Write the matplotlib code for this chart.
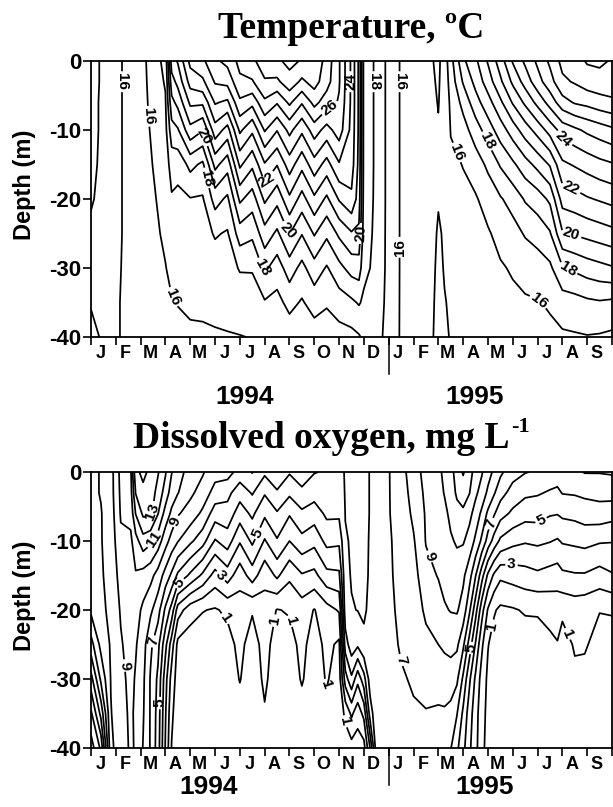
import numpy as np
import matplotlib
matplotlib.use('Agg')
import matplotlib.pyplot as plt
from matplotlib import transforms

plt.rcParams['font.family'] = ['Liberation Sans', 'DejaVu Sans']
plt.rcParams['font.weight'] = 'bold'

# month letters Jan 1994 .. Sep 1995
months = list('JFMAMJJASONDJFMAMJJAS')
years = ['1994', '1995']
depths = [0, -3, -6, -10, -15, -20, -25, -30, -35, -40]

# temperature profiles (deg C) read at each date (months since 1 Jan 1994)
temp_times = [0.0, 0.5, 1.0, 1.5, 2.0, 2.5, 3.0, 3.25, 3.5, 4.0, 4.5, 5.0, 5.5,
              6.0, 6.5, 7.0, 7.5, 8.0, 8.5, 9.0, 9.5, 10.0, 10.5, 10.8, 11.0,
              11.5, 12.0, 12.5, 13.0, 13.5, 14.0, 14.25, 14.5, 15.0, 15.5,
              16.0, 16.5, 17.0, 17.5, 18.0, 18.5, 19.0, 19.5, 20.0, 20.5, 21.0]
temp_values = [
    [17.4, 17.4, 17.3, 17.3, 17.2, 17.1, 16.8, 16.4, 16.05, 15.8],
    [16.8, 16.8, 16.8, 16.8, 16.8, 16.7, 16.6, 16.4, 16.2, 16.1],
    [16.2, 16.2, 16.2, 16.2, 16.2, 16.2, 16.2, 16.15, 16.1, 16.1],
    [15.8, 15.8, 15.8, 15.8, 15.8, 15.8, 15.8, 15.8, 15.8, 15.8],
    [15.6, 15.6, 15.6, 15.6, 15.6, 15.6, 15.6, 15.6, 15.6, 15.6],
    [16.5, 16.4, 16.3, 16.15, 16.02, 15.9, 15.8, 15.7, 15.6, 15.6],
    [17.3, 17.1, 16.9, 16.7, 16.5, 16.3, 16.15, 15.97, 15.85, 15.7],
    [21.5, 20.6, 19.7, 18.6, 17.4, 16.9, 16.5, 16.2, 15.95, 15.8],
    [22.1, 21.3, 20.3, 18.9, 17.3, 16.8, 16.5, 16.2, 16.02, 15.85],
    [24.3, 23.4, 22.2, 20.7, 18.3, 16.95, 16.6, 16.35, 16.1, 15.9],
    [24.8, 23.8, 22.2, 20.05, 17.8, 16.9, 16.6, 16.35, 16.1, 15.92],
    [25.8, 25.1, 24.1, 22.6, 20.3, 18.4, 17.1, 16.5, 16.15, 15.94],
    [26.3, 25.3, 23.8, 21.6, 19.4, 17.8, 16.9, 16.5, 16.2, 15.96],
    [27.3, 26.8, 25.8, 24.2, 22.2, 20.2, 18.5, 17.1, 16.3, 15.98],
    [27.8, 26.9, 25.3, 23.2, 21.2, 19.5, 18.2, 17.1, 16.4, 16.02],
    [28.5, 27.9, 26.8, 25.1, 22.9, 21.2, 19.6, 18.2, 16.9, 16.1],
    [28.8, 27.8, 26.1, 24.05, 22.05, 20.3, 18.8, 17.5, 16.7, 16.2],
    [29.3, 28.6, 27.2, 25.3, 23.5, 21.8, 20.05, 18.5, 17.3, 16.4],
    [28.9, 27.8, 26.1, 24.2, 22.3, 20.6, 19.05, 17.7, 16.9, 16.35],
    [28.8, 28.4, 27.3, 25.5, 23.6, 21.8, 20.1, 18.6, 17.4, 16.5],
    [27.6, 27.4, 26.5, 24.6, 22.6, 20.8, 19.2, 17.9, 17.1, 16.5],
    [26.1, 26.1, 25.9, 25.5, 23.9, 22.1, 20.2, 18.7, 17.5, 16.6],
    [23.8, 23.8, 23.8, 23.7, 23.5, 22.8, 20.9, 19.4, 17.8, 16.7],
    [21.8, 21.8, 21.8, 21.8, 21.7, 21.5, 20.8, 19.5, 18.1, 16.9],
    [18.7, 18.7, 18.7, 18.7, 18.7, 18.6, 18.5, 18.3, 17.8, 17.2],
    [17.8, 17.8, 17.8, 17.8, 17.8, 17.8, 17.75, 17.7, 17.6, 17.4],
    [16.7, 16.7, 16.7, 16.7, 16.7, 16.7, 16.7, 16.7, 16.65, 16.6],
    [15.9, 15.9, 15.9, 15.9, 15.9, 15.9, 15.9, 15.9, 15.9, 15.9],
    [15.5, 15.5, 15.5, 15.5, 15.5, 15.5, 15.5, 15.5, 15.5, 15.5],
    [15.3, 15.3, 15.3, 15.3, 15.3, 15.3, 15.3, 15.3, 15.3, 15.3],
    [14.8, 14.9, 14.97, 15.05, 15.08, 15.03, 14.95, 14.9, 14.85, 14.8],
    [15.5, 15.4, 15.3, 15.2, 15.15, 15.1, 15.05, 15.03, 14.98, 14.95],
    [16.6, 16.4, 16.2, 16.05, 15.8, 15.5, 15.3, 15.15, 15.05, 15.02],
    [18.8, 18.1, 17.3, 16.6, 16.03, 15.8, 15.5, 15.3, 15.2, 15.1],
    [19.8, 19.3, 18.6, 17.5, 16.5, 15.9, 15.6, 15.4, 15.3, 15.2],
    [21.1, 20.5, 19.6, 18.5, 17.2, 16.4, 15.9, 15.6, 15.4, 15.3],
    [22.5, 21.8, 20.8, 19.5, 18.1, 16.9, 16.3, 15.9, 15.6, 15.4],
    [24.1, 23.2, 22.1, 20.5, 18.8, 17.4, 16.6, 16.1, 15.8, 15.5],
    [25.2, 24.4, 23.2, 21.5, 19.6, 18.1, 17.1, 16.3, 15.9, 15.6],
    [26.2, 25.6, 24.3, 22.4, 20.3, 18.5, 17.4, 16.5, 15.95, 15.7],
    [27.2, 26.6, 25.4, 23.4, 21.1, 19.2, 17.9, 16.8, 16.1, 15.8],
    [28.3, 27.8, 26.6, 24.4, 22.8, 21.4, 19.9, 17.9, 16.5, 15.85],
    [28.6, 28.1, 27.1, 24.8, 23.1, 21.6, 20.1, 18.2, 16.6, 15.9],
    [29.1, 28.5, 27.3, 25.2, 23.4, 21.9, 20.3, 18.5, 16.8, 15.95],
    [29.2, 28.6, 27.6, 25.5, 23.7, 22.1, 20.5, 18.7, 16.9, 15.9],
    [28.9, 28.6, 27.8, 25.8, 23.9, 22.3, 20.7, 18.9, 16.8, 15.8],
]
temp_levels = np.arange(15, 30)
temp_label_levels = [16, 18, 20, 22, 24, 26, 28]
temp_label_xy = [(1.3, -3), (2.35, -8), (3.6, -33.5), (4.45, -11), (4.6, -17),
                 (6.85, -30), (7.4, -18), (7.8, -24.8), (9.55, -6.4),
                 (10.35, -3), (10.9, -25), (11.4, -3), (12.5, -3), (12.5, -27),
                 (14.5, -13.6), (15.9, -11.7), (18.0, -35), (19.1, -11),
                 (19.4, -18), (19.4, -24.6), (19.3, -29.6)]

# dissolved oxygen profiles (mg/L)
do_times = [0.0, 0.4, 0.8, 1.2, 1.6, 1.8, 2.1, 2.4, 2.7, 3.0, 3.25, 3.5, 4.0,
            4.5, 5.0, 5.5, 6.0, 6.5, 7.0, 7.5, 8.0, 8.5, 9.0, 9.5, 10.0, 10.25,
            10.5, 10.75, 11.0, 11.25, 11.5, 12.0, 12.5, 13.0, 13.5, 14.0, 14.25,
            14.5, 14.75, 15.0, 15.25, 15.5, 15.75, 16.0, 16.25, 16.5, 17.0,
            17.5, 18.0, 18.5, 18.8, 19.0, 19.5, 19.9, 20.5, 21.0]
do_values = [
    [7.8, 7.8, 7.8, 7.7, 7.6, 7.2, 5.6, 3.6, 1.8, 0.5],
    [8.05, 8.05, 7.95, 7.95, 7.9, 7.8, 7.3, 6.2, 4.3, 2.2],
    [8.6, 8.6, 8.5, 8.4, 8.3, 8.2, 8.1, 8.05, 7.95, 7.8],
    [10.3, 10.2, 10.1, 9.8, 9.4, 9.1, 8.9, 8.7, 8.6, 8.5],
    [10.8, 10.6, 10.3, 9.8, 9.7, 9.5, 9.4, 9.3, 9.2, 9.15],
    [13.8, 13.05, 12.05, 10.6, 9.9, 9.4, 9.1, 8.9, 8.8, 8.9],
    [14.2, 13.8, 13.2, 11.6, 9.6, 8.8, 8.4, 8.2, 8.1, 7.95],
    [13.8, 13.6, 13.3, 11.2, 9.3, 8.2, 7.2, 6.9, 6.9, 6.9],
    [13.1, 12.6, 12.05, 10.5, 8.6, 7.4, 6.3, 5.8, 5.6, 5.5],
    [12.1, 11.6, 10.6, 9.4, 7.6, 5.8, 4.3, 3.4, 3.1, 2.9],
    [11.05, 10.5, 9.8, 8.6, 6.8, 4.6, 2.5, 1.6, 1.2, 0.95],
    [10.5, 10.05, 9.1, 8.05, 5.8, 2.5, 0.7, 0.5, 0.4, 0.3],
    [9.5, 9.2, 8.6, 7.2, 4.8, 1.4, 0.5, 0.4, 0.3, 0.3],
    [9.1, 8.6, 7.8, 6.4, 3.8, 1.05, 0.4, 0.3, 0.3, 0.3],
    [8.4, 7.6, 6.5, 4.9, 2.6, 0.9, 0.3, 0.3, 0.3, 0.3],
    [8.4, 7.3, 6.6, 5.5, 3.5, 1.2, 0.6, 0.4, 0.3, 0.3],
    [7.6, 6.4, 5.5, 4.1, 2.4, 1.5, 1.3, 1.05, 0.6, 0.3],
    [8.05, 7.1, 6.2, 5.2, 3.5, 1.1, 0.5, 0.4, 0.3, 0.3],
    [7.2, 6.1, 5.2, 3.9, 2.3, 1.6, 1.4, 1.2, 0.9, 0.4],
    [7.6, 6.9, 5.9, 4.9, 3.2, 0.95, 0.5, 0.4, 0.3, 0.3],
    [7.1, 6.2, 5.1, 4.0, 2.2, 1.1, 0.6, 0.4, 0.3, 0.3],
    [7.5, 6.8, 5.8, 4.7, 2.9, 1.5, 1.3, 1.1, 0.6, 0.3],
    [7.05, 6.4, 5.5, 4.3, 2.7, 0.95, 0.5, 0.4, 0.3, 0.3],
    [6.9, 6.8, 6.2, 5.3, 3.7, 1.6, 1.3, 1.1, 0.7, 0.3],
    [6.8, 6.6, 6.2, 5.2, 3.8, 2.1, 0.8, 0.5, 0.4, 0.3],
    [7.05, 7.05, 7.02, 6.95, 6.8, 6.6, 5.5, 3.5, 1.2, 0.5],
    [7.1, 7.1, 7.1, 7.05, 7.05, 6.95, 6.6, 4.8, 2.2, 0.6],
    [7.2, 7.2, 7.2, 7.1, 7.1, 7.02, 6.2, 3.3, 1.4, 0.5],
    [7.3, 7.3, 7.3, 7.3, 7.2, 7.1, 6.85, 4.6, 2.3, 0.6],
    [6.95, 6.95, 6.95, 6.9, 6.9, 6.85, 6.75, 6.5, 5.5, 3.05],
    [6.8, 6.8, 6.8, 6.8, 6.8, 6.8, 6.8, 6.75, 6.7, 6.6],
    [6.95, 6.95, 6.95, 6.9, 6.9, 6.9, 6.85, 6.8, 6.8, 6.75],
    [7.6, 7.5, 7.4, 7.3, 7.2, 7.1, 7.05, 6.95, 6.9, 6.85],
    [8.6, 8.4, 8.2, 7.9, 7.6, 7.4, 7.2, 7.05, 6.95, 6.9],
    [9.3, 9.2, 9.1, 9.05, 8.7, 8.2, 7.7, 7.3, 6.95, 6.9],
    [9.8, 9.7, 9.5, 9.3, 9.05, 8.6, 8.0, 7.3, 6.9, 6.8],
    [10.2, 10.05, 9.8, 9.6, 9.3, 8.9, 8.2, 7.4, 6.9, 6.6],
    [10.6, 10.4, 10.2, 9.9, 9.5, 9.05, 8.3, 7.5, 6.7, 6.05],
    [11.5, 11.2, 10.6, 10.1, 9.6, 9.1, 8.2, 7.2, 6.05, 5.2],
    [12.1, 11.5, 10.8, 10.1, 9.2, 8.6, 7.2, 5.8, 4.8, 4.3],
    [11.5, 11.05, 10.3, 9.6, 8.4, 7.2, 5.6, 4.2, 3.5, 3.2],
    [10.5, 10.2, 9.6, 8.8, 7.05, 5.4, 3.9, 2.8, 2.4, 2.3],
    [10.1, 9.6, 8.8, 7.8, 5.4, 3.4, 2.2, 1.6, 1.4, 1.3],
    [9.4, 8.8, 7.8, 6.6, 3.8, 1.9, 1.05, 0.8, 0.7, 0.6],
    [8.8, 8.1, 7.1, 5.6, 2.8, 1.1, 0.6, 0.4, 0.4, 0.4],
    [8.2, 7.4, 6.4, 4.8, 2.2, 0.8, 0.4, 0.3, 0.3, 0.3],
    [7.4, 6.6, 5.8, 4.3, 2.4, 0.9, 0.4, 0.3, 0.3, 0.3],
    [7.05, 6.2, 5.4, 4.1, 2.6, 1.1, 0.5, 0.3, 0.3, 0.3],
    [6.9, 6.1, 5.4, 4.2, 2.8, 1.1, 0.6, 0.3, 0.3, 0.3],
    [6.6, 5.9, 5.1, 4.05, 2.6, 1.3, 0.8, 0.5, 0.3, 0.3],
    [6.5, 5.8, 5.05, 3.9, 2.5, 1.4, 0.95, 0.6, 0.4, 0.3],
    [6.8, 6.05, 5.2, 4.1, 2.8, 1.2, 0.6, 0.4, 0.3, 0.3],
    [6.8, 6.1, 5.3, 4.2, 2.9, 1.4, 1.1, 0.8, 0.5, 0.3],
    [7.05, 6.2, 5.5, 4.3, 2.9, 1.3, 1.15, 0.6, 0.4, 0.3],
    [7.05, 6.3, 5.6, 4.1, 2.6, 1.05, 0.5, 0.4, 0.3, 0.3],
    [7.1, 6.4, 5.4, 4.05, 2.9, 1.1, 0.5, 0.4, 0.3, 0.3],
]
do_levels = np.arange(1, 15)
do_label_levels = [1, 3, 5, 7, 9, 11, 13]
do_label_xy = [(1.5, -28), (2.45, -24.5), (2.85, -33.5), (2.45, -5.7),
               (2.45, -9.6), (3.6, -7.4), (3.4, -15.4), (5.4, -14.5),
               (5.5, -21), (6.6, -8.7), (7.0, -21.3), (7.9, -21.7), (9.3, -31),
               (10.5, -36), (12.9, -27), (13.6, -12.3), (16.06, -7.4),
               (15.3, -25.5), (16.95, -13.5), (16.5, -22.5), (18.3, -8.1),
               (19.7, -22.7)]

W, H = 613, 807
fig = plt.figure(figsize=(W / 100, H / 100), dpi=100)


def panel(ax, times, values, levels, label_levels, label_xy):
    z = np.array(values).T
    plain = [lv for lv in levels if lv not in label_levels]
    ax.contour(times, depths, z, levels=plain, colors='k', linewidths=1.25)
    cs = ax.contour(times, depths, z, levels=label_levels, colors='k', linewidths=1.25)
    txt = ax.clabel(cs, manual=label_xy, inline=True,
                    inline_spacing=2, fontsize=11, fmt='%d')
    for t in txt:
        t.set_fontweight('bold')
    ax.set_xlim(0, 21)
    ax.set_ylim(-40, 0)
    ax.set_xticks(np.arange(0, 22))
    ax.set_xticklabels([])
    ax.set_xticks(np.arange(21) + 0.5 - 0.12, minor=True)
    ax.set_xticklabels(months, minor=True, fontsize=13, fontweight='bold')
    ax.tick_params(axis='x', which='major', direction='out', length=6, width=1.2)
    ax.tick_params(axis='x', which='minor', length=0, pad=6)
    ax.set_yticks([0, -10, -20, -30, -40])
    ax.set_yticklabels(['0', '-10', '-20', '-30', '-40'], fontsize=16, fontweight='bold')
    ax.tick_params(axis='y', direction='out', length=6, width=1.2, pad=1)
    for s in ax.spines.values():
        s.set_linewidth(1.3)
    # long tick separating the two years
    tr = transforms.blended_transform_factory(ax.transData, ax.transAxes)
    ax.plot([12, 12], [0, -0.135], color='k', lw=1.1, transform=tr, clip_on=False)


ax1 = fig.add_axes([91 / W, 1 - 337 / H, 521 / W, 276 / H])
ax2 = fig.add_axes([91 / W, 1 - 748 / H, 521 / W, 276 / H])
panel(ax1, temp_times, temp_values, temp_levels, temp_label_levels, temp_label_xy)
panel(ax2, do_times, do_values, do_levels, do_label_levels, do_label_xy)

serif = ['Liberation Serif', 'DejaVu Serif']
fig.text(218 / W, 1 - 38 / H, 'Temperature, ºC', family=serif, weight='bold',
         fontsize=27, ha='left', va='baseline')
t_do = fig.text(133 / W, 1 - 448 / H, 'Dissolved oxygen, mg L', family=serif,
                weight='bold', fontsize=27, ha='left', va='baseline')
fig.canvas.draw()
bb = t_do.get_window_extent()
fig.text((bb.x1 + 2) / W, 1 - 432 / H, '-1', family=serif, weight='bold',
         fontsize=16, ha='left', va='baseline')

for yc in (185, 596):
    fig.text(25 / W, 1 - yc / H, 'Depth (m)', rotation=90, fontsize=17,
             fontweight='bold', ha='center', va='center')

fig.text(245 / W, 1 - 397 / H, years[0], fontsize=19, fontweight='bold', ha='center', va='center')
fig.text(475 / W, 1 - 397 / H, years[1], fontsize=19, fontweight='bold', ha='center', va='center')
fig.text(209 / W, 1 - 787 / H, years[0], fontsize=19, fontweight='bold', ha='center', va='center')
fig.text(485 / W, 1 - 787 / H, years[1], fontsize=19, fontweight='bold', ha='center', va='center')

fig.savefig('out.png', dpi=100, facecolor='white')
